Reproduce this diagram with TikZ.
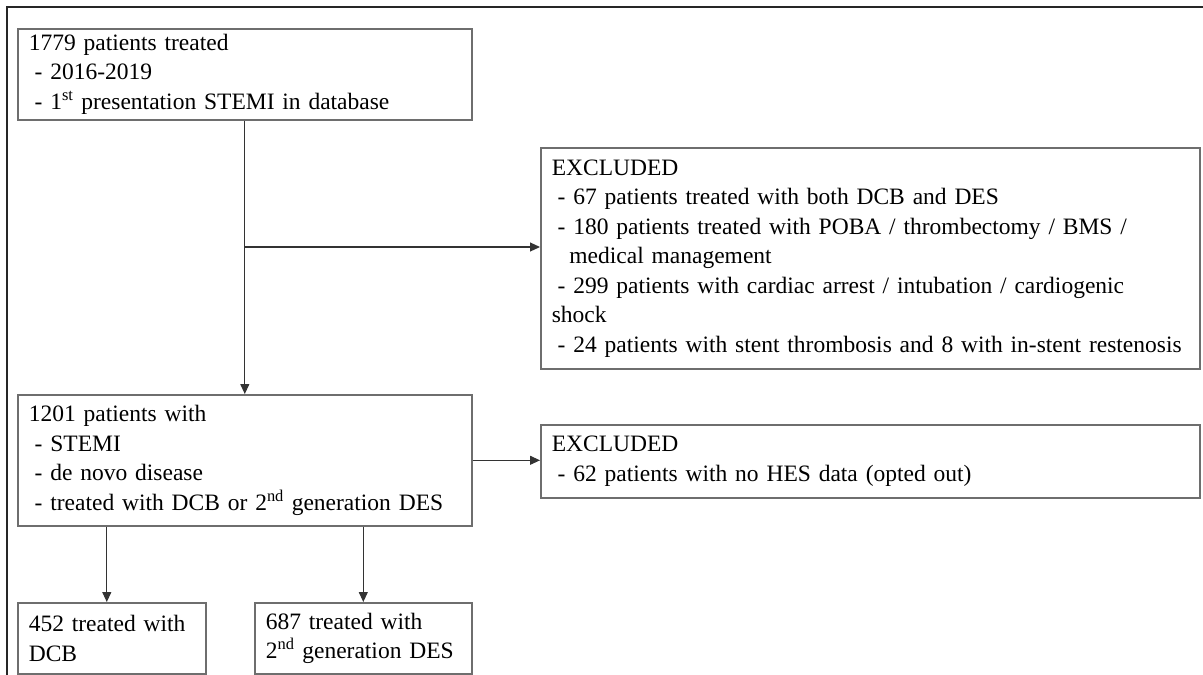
\documentclass[tikz,border=0pt]{standalone}
\usepackage{fontspec}
\setmainfont{Liberation Serif}
\usetikzlibrary{arrows.meta}
\definecolor{boxgray}{HTML}{6E6E6E}
\definecolor{linegray}{HTML}{333333}
\newcommand{\li}{\hspace*{0.25em}}
\hyphenpenalty=10000
\exhyphenpenalty=10000

\begin{document}
\begin{tikzpicture}[x=1pt, y=-1pt,
  fbox/.style={draw=boxgray, line width=1.6pt, anchor=north west, align=left, inner xsep=11pt, inner ysep=0pt,
    font=\fontsize{23.5}{29.5}\selectfont},
  flow/.style={draw=linegray, line width=1.1pt, -{Triangle[length=10pt, width=9pt]}}]

\useasboundingbox (0,0) rectangle (1203,675);
\draw[line width=1.4pt, black!85] (7,675) -- (7,7) -- (1203,7);

\node[fbox, text width=432pt, minimum width=454pt, minimum height=91pt] at (17,28) (start) {
  1779 patients treated\\
  \li- 2016-2019\\
  \li- 1\textsuperscript{st} presentation STEMI in database
};
\node[fbox, text width=637pt, minimum width=659pt, minimum height=221pt] at (540,147) (excla) {
  EXCLUDED\\
  \li- 67 patients treated with both DCB and DES\\
  \li- 180 patients treated with POBA / thrombectomy / BMS /\\
  \hspace*{0.75em}medical management\\
  \li- 299 patients with cardiac arrest / intubation / cardiogenic\\
  shock\\
  \li- 24 patients with stent thrombosis and 8 with in-stent restenosis
};
\node[fbox, text width=432pt, minimum width=454pt, minimum height=131pt] at (17,394) (cohort) {
  1201 patients with\\
  \li- STEMI\\
  \li- de novo disease\\
  \li- treated with DCB or 2\textsuperscript{nd} generation DES
};
\node[fbox, text width=637pt, minimum width=659pt, minimum height=73pt] at (540,424) (exclb) {
  EXCLUDED\\
  \li- 62 patients with no HES data (opted out)
};
\node[fbox, text width=166pt, minimum width=188pt, minimum height=71pt] at (17,602) (dcb) {
  452 treated with\\
  DCB
};
\node[fbox, text width=195pt, minimum width=217pt, minimum height=71pt] at (254,602) (des) {
  687 treated with\\
  2\textsuperscript{nd} generation DES
};

\coordinate (split) at (244,247);
\draw[flow] (start.south) -- (cohort.north);
\draw[flow] (split) -- (split -| excla.west);
\draw[flow] (cohort.east) -- (cohort.east -| exclb.west);
\draw[flow] ([xshift=-5pt]dcb.north |- cohort.south) -- ([xshift=-5pt]dcb.north);
\draw[flow] (des.north |- cohort.south) -- (des.north);
\end{tikzpicture}
\end{document}
